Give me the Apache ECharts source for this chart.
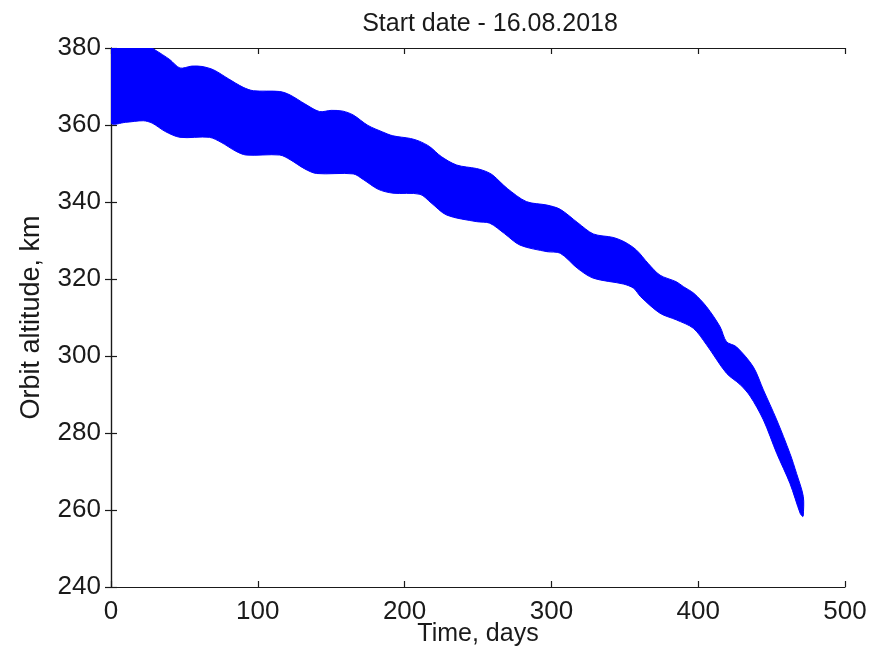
<!DOCTYPE html>
<html>
<head>
<meta charset="utf-8">
<script src="https://cdn.jsdelivr.net/npm/echarts@6/dist/echarts.min.js"></script>
<style>
  html, body { margin: 0; padding: 0; background: #ffffff; }
  #chart { width: 877px; height: 649px; }
</style>
</head>
<body>
<div id="chart"></div>
<script>
// Upper edge of the altitude band (day, km)
const upperDays = [0, 25, 30, 40, 47, 55, 62, 70, 80, 90, 97, 115, 122, 132, 142, 150, 158, 165, 175, 185, 192, 204, 210, 217, 225, 235.5, 249, 255, 260, 270, 283, 297, 306, 318, 328.6, 342, 350, 358, 366, 374, 385, 390, 397, 405.7, 414.9, 419.3, 426, 437.5, 444.4, 453.5, 462.5, 467, 471.6, 471.6];
const upperAlt  = [381.5, 380.5, 379.5, 377, 374.8, 375.3, 375.2, 374.3, 372, 369.8, 368.9, 368.7, 367.8, 365.5, 363.5, 363.8, 363.6, 362.6, 359.9, 358.2, 357.2, 356.5, 355.8, 354.4, 351.8, 349.6, 348.7, 348.0, 347, 343.5, 340.1, 339.2, 338.1, 334.6, 331.7, 330.8, 329.6, 327.5, 324, 321, 319.3, 318, 316.3, 312.8, 307.6, 303.7, 302.4, 297.2, 291.2, 283.4, 274.7, 269.5, 263.5, 258.5];

// Lower edge of the altitude band (day, km)
const lowerDays = [0, 10, 22, 28, 37, 47, 67, 75, 85, 92, 115, 122, 132, 140, 165, 172, 182, 192, 210.5, 218, 228.7, 249, 258, 268, 278.6, 297, 306, 318, 328.6, 349, 356, 360.8, 374, 385, 396.7, 405.7, 419.3, 428.5, 435.3, 444.4, 453.5, 462.5, 469.5, 471.2];
const lowerAlt  = [360.6, 360.7, 361.1, 360.5, 358.3, 356.8, 356.8, 355.5, 353.2, 352.2, 352.2, 351, 348.6, 347.4, 347.3, 345.8, 343.3, 342.3, 342, 339.8, 336.6, 334.9, 334.5, 331.8, 328.8, 327.1, 326.7, 322.7, 320.2, 318.7, 317.6, 315.4, 311.1, 309.4, 307.2, 302.9, 295.5, 292.6, 289.6, 283.4, 274.7, 266.9, 259.1, 258.3];

const xTicks = [0, 100, 200, 300, 400, 500];
const yTicks = [240, 260, 280, 300, 320, 340, 360, 380];

const titleText = 'Start date - 16.08.2018';
const xName = 'Time, days';
const yName = 'Orbit altitude, km';

const FONT = "'Liberation Sans', Arial, sans-serif";
const INK = '#1a1a1a';

// Band outline: upper edge left to right, then lower edge back
const bandPoints = upperDays.map((d, i) => [d, upperAlt[i]])
  .concat(lowerDays.map((d, i) => [d, lowerAlt[i]]).reverse());

const chart = echarts.init(document.getElementById('chart'), null, { renderer: 'canvas' });

const axisLine = { show: true, lineStyle: { color: INK, width: 1.2 } };
const axisTick = { show: true, inside: true, length: 6, lineStyle: { color: INK, width: 1.2 } };

chart.setOption({
  backgroundColor: '#ffffff',
  animation: false,
  title: {
    text: titleText,
    left: 485,
    top: 7,
    textAlign: 'center',
    textStyle: { fontFamily: FONT, fontSize: 25, fontWeight: 'normal', color: INK }
  },
  grid: { left: 111, right: 32, top: 48, bottom: 62, containLabel: false, outerBoundsMode: 'none' },
  xAxis: [
    {
      type: 'value', position: 'bottom', min: xTicks[0], max: xTicks[xTicks.length - 1], interval: 100,
      axisLine, axisTick, splitLine: { show: false },
      axisLabel: { fontFamily: FONT, fontSize: 26, color: INK, margin: 12 },
      name: xName, nameLocation: 'middle', nameGap: 35, nameMoveOverlap: false,
      nameTextStyle: { fontFamily: FONT, fontSize: 25, color: INK }
    },
    {
      type: 'value', position: 'top', min: xTicks[0], max: xTicks[xTicks.length - 1], interval: 100,
      axisLine, axisTick, splitLine: { show: false }, axisLabel: { show: false }
    }
  ],
  yAxis: [
    {
      type: 'value', position: 'left', min: yTicks[0], max: yTicks[yTicks.length - 1], interval: 20,
      axisLine, axisTick, splitLine: { show: false },
      axisLabel: { fontFamily: FONT, fontSize: 26, color: INK, margin: 10 },
      name: yName, nameLocation: 'middle', nameGap: 66, nameRotate: 90, nameMoveOverlap: false,
      nameTextStyle: { fontFamily: FONT, fontSize: 27, color: INK }
    },
    {
      type: 'value', position: 'right', min: yTicks[0], max: yTicks[yTicks.length - 1], interval: 20,
      axisLine, axisTick, splitLine: { show: false }, axisLabel: { show: false }
    }
  ],
  series: [
    {
      type: 'custom',
      clip: true,
      xAxisIndex: 0,
      yAxisIndex: 0,
      data: bandPoints,
      renderItem: function (params, api) {
        if (params.dataIndex !== 0) return null;
        const pts = bandPoints.map(p => api.coord(p));
        return {
          type: 'polygon',
          shape: { points: pts, smooth: 0.3 },
          style: { fill: '#0000ff', stroke: '#0000ff', lineWidth: 1 }
        };
      },
      z: 1
    }
  ]
});
</script>
</body>
</html>
